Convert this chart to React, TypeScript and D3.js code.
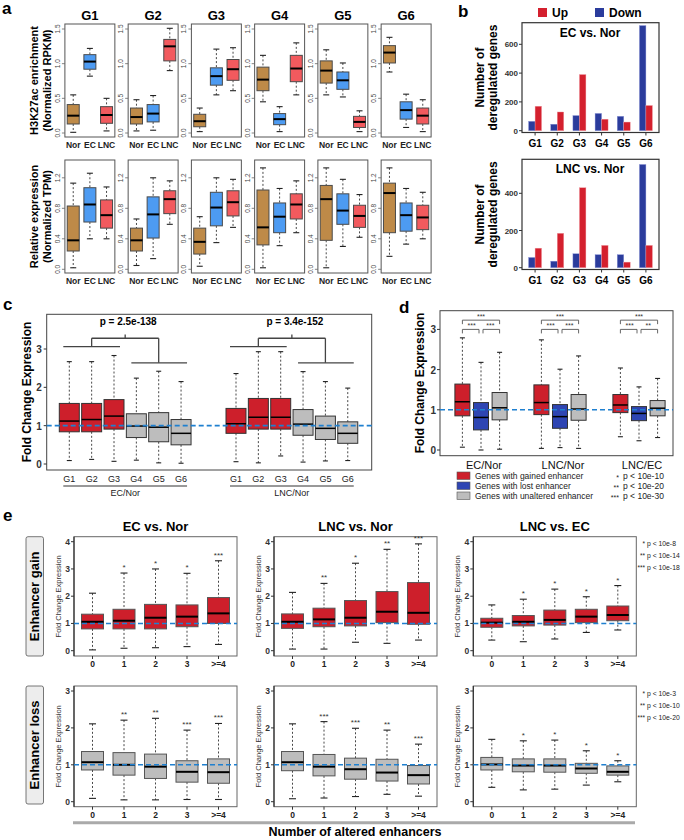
import React from "react";
import * as d3 from "d3";

const FONT = "'Liberation Sans', Arial, Helvetica, sans-serif";

// ---------- DATA ----------
const groups = ["G1", "G2", "G3", "G4", "G5", "G6"];
const conditions = ["Nor", "EC", "LNC"];
// five-number summaries: [low whisker, q1, median, q3, high whisker]
const h3k27ac = [
  [[0.01, 0.13, 0.25, 0.41, 0.55], [0.82, 0.92, 1.03, 1.13, 1.22], [0.03, 0.14, 0.26, 0.38, 0.5]],
  [[0.03, 0.13, 0.23, 0.36, 0.48], [0.04, 0.16, 0.28, 0.41, 0.54], [0.9, 1.04, 1.25, 1.35, 1.51]],
  [[0.02, 0.09, 0.17, 0.27, 0.36], [0.55, 0.69, 0.82, 0.94, 1.21], [0.61, 0.76, 0.92, 1.06, 1.23]],
  [[0.45, 0.61, 0.77, 0.95, 1.12], [0.02, 0.12, 0.2, 0.28, 0.38], [0.55, 0.74, 0.93, 1.12, 1.3]],
  [[0.55, 0.72, 0.9, 1.04, 1.2], [0.52, 0.63, 0.76, 0.88, 1.01], [0.02, 0.08, 0.16, 0.24, 0.32]],
  [[0.88, 1.01, 1.16, 1.26, 1.38], [0.08, 0.2, 0.33, 0.45, 0.56], [0.02, 0.13, 0.25, 0.36, 0.48]],
];
const relExpr = [
  [[0.02, 0.24, 0.38, 0.83, 1.13], [0.4, 0.62, 0.85, 1.07, 1.26], [0.4, 0.54, 0.71, 0.91, 1.08]],
  [[0.05, 0.24, 0.38, 0.54, 0.66], [0.14, 0.41, 0.72, 0.95, 1.2], [0.59, 0.73, 0.92, 1.03, 1.16]],
  [[0.04, 0.2, 0.36, 0.54, 0.69], [0.35, 0.57, 0.81, 1.01, 1.2], [0.55, 0.7, 0.88, 1.03, 1.18]],
  [[0.02, 0.32, 0.55, 1.04, 1.33], [0.31, 0.48, 0.69, 0.87, 1.06], [0.48, 0.66, 0.85, 0.99, 1.16]],
  [[0.02, 0.38, 0.92, 1.1, 1.33], [0.3, 0.59, 0.77, 0.99, 1.18], [0.42, 0.55, 0.7, 0.84, 0.98]],
  [[0.17, 0.48, 1.0, 1.13, 1.33], [0.33, 0.5, 0.71, 0.87, 1.06], [0.4, 0.52, 0.68, 0.84, 1.01]],
];
const aTicksTop = [0, 0.5, 1, 1.5];
const aTicksBottom = [0, 0.4, 0.8, 1.2];

const bUpEC = [170, 130, 390, 80, 60, 175];
const bDownEC = [65, 45, 105, 120, 100, 730];
const bUpLNC = [105, 185, 430, 120, 30, 120];
const bDownLNC = [55, 35, 75, 70, 70, 555];
const bTicksTop = [0, 200, 400, 600];
const bTicksBottom = [0, 200, 400];

const cEcNor = [
  [0.09, 0.84, 1.12, 1.58, 2.67], [0.12, 0.84, 1.16, 1.58, 2.67], [0.07, 0.91, 1.25, 1.68, 2.83],
  [0.1, 0.69, 0.99, 1.31, 2.24], [0.03, 0.58, 0.96, 1.34, 2.42], [0.02, 0.5, 0.8, 1.16, 2.15],
];
const cLncNor = [
  [0.06, 0.8, 1.05, 1.45, 2.36], [0.03, 0.91, 1.22, 1.71, 2.93], [0.21, 0.91, 1.22, 1.71, 2.93],
  [0.05, 0.75, 1.04, 1.42, 2.41], [0.08, 0.64, 0.93, 1.25, 2.15], [0.09, 0.54, 0.8, 1.1, 1.98],
];
const cComparisons = ["EC/Nor", "LNC/Nor"];
const cPvals = ["p = 2.5e-138", "p = 3.4e-152"];
const fcTicks = [0, 1, 2, 3];

const dComparisons = ["EC/Nor", "LNC/Nor", "LNC/EC"];
const dGained = [[0.07, 0.85, 1.2, 1.64, 2.79], [0.04, 0.88, 1.18, 1.62, 2.74], [0.33, 0.93, 1.12, 1.38, 2.04]];
const dLost = [[0.0, 0.5, 0.81, 1.18, 2.18], [0.06, 0.54, 0.83, 1.13, 2.01], [0.23, 0.73, 0.91, 1.08, 1.57]];
const dUnaltered = [[0.02, 0.75, 1.05, 1.43, 2.43], [0.04, 0.74, 1.02, 1.38, 2.34], [0.31, 0.85, 1.04, 1.23, 1.78]];
const dStars = [["***", "***", "***"], ["***", "***", "***"], ["***", "***", "**"]]; // top, left, right
const dLegend = ["Genes with gained enhancer", "Genes with lost enhancer", "Genes with unaltered enhancer"];
const dPLegend = [["*", "p < 10e-10"], ["**", "p < 10e-20"], ["***", "p < 10e-30"]];

const eCats = ["0", "1", "2", "3", ">=4"];
const eTitles = ["EC vs. Nor", "LNC vs. Nor", "LNC vs. EC"];
const eGainEcNor = [[0.03, 0.8, 1.06, 1.34, 2.11], [0.09, 0.8, 1.1, 1.52, 2.85], [0.11, 0.8, 1.21, 1.7, 3.0], [0.15, 0.88, 1.25, 1.68, 2.84], [0.23, 1.0, 1.37, 1.95, 3.3]];
const eGainLncNor = [[0.06, 0.82, 1.06, 1.35, 2.14], [0.06, 0.88, 1.15, 1.56, 2.47], [0.31, 0.91, 1.21, 1.84, 3.21], [0.27, 1.03, 1.43, 2.17, 3.72], [0.39, 0.97, 1.39, 2.5, 3.92]];
const eGainLncEc = [[0.39, 0.86, 1.03, 1.19, 1.68], [0.33, 0.91, 1.06, 1.29, 1.89], [0.43, 0.94, 1.13, 1.49, 2.26], [0.67, 1.03, 1.25, 1.52, 1.98], [0.76, 1.1, 1.31, 1.64, 2.39]];
const eLossEcNor = [[0.09, 0.86, 1.07, 1.36, 2.11], [0.05, 0.72, 1.0, 1.33, 2.21], [0.05, 0.63, 0.95, 1.29, 2.26], [0.06, 0.53, 0.81, 1.11, 1.94], [0.06, 0.5, 0.8, 1.16, 2.12]];
const eLossLncNor = [[0.08, 0.84, 1.07, 1.36, 2.11], [0.1, 0.7, 0.95, 1.28, 2.17], [0.14, 0.61, 0.88, 1.18, 1.99], [0.2, 0.56, 0.79, 1.15, 1.94], [0.15, 0.48, 0.72, 0.98, 1.56]];
const eLossLncEc = [[0.39, 0.86, 1.01, 1.2, 1.69], [0.32, 0.81, 0.98, 1.16, 1.65], [0.34, 0.8, 0.98, 1.16, 1.67], [0.45, 0.77, 0.9, 1.04, 1.38], [0.54, 0.72, 0.81, 0.97, 1.11]];
const eGainStars = [["", "*", "*", "*", "***"], ["", "**", "*", "**", "***"], ["", "*", "*", "*", "*"]];
const eLossStars = [["", "**", "**", "***", "***"], ["", "***", "***", "**", "***"], ["", "*", "*", "*", "*"]];
const eGainLegend = [["*", "p < 10e-8"], ["**", "p < 10e-14"], ["***", "p < 10e-18"]];
const eLossLegend = [["*", "p < 10e-3"], ["**", "p < 10e-10"], ["***", "p < 10e-20"]];
const eGainTicks = [0, 1, 2, 3, 4];
const eLossTicks = [0, 1, 2, 3];

// ---------- COLORS ----------
const cNor = "#BE8A48";
const cEC = "#4D9BF2";
const cLNC = "#F25A5E";
const cRed = "#CD1F2B";
const cBlue = "#2E45B3";
const cGray = "#BDBDBD";
const bUpCol = "#D4202E";
const bDownCol = "#2B3C9C";
const dashCol = "#1F80D0";

function Box({ cx, w, s, y, fill, capW, medW = 2, stroke = "#4a4a4a", capCol = "#222" }: any) {
  const [lo, q1, med, q3, hi] = s;
  const cw = capW ?? w * 0.5;
  return (
    <g>
      <line x1={cx} x2={cx} y1={y(hi)} y2={y(q3)} stroke="#333" strokeDasharray="2,2" strokeWidth={0.9} />
      <line x1={cx} x2={cx} y1={y(q1)} y2={y(lo)} stroke="#333" strokeDasharray="2,2" strokeWidth={0.9} />
      <line x1={cx - cw / 2} x2={cx + cw / 2} y1={y(hi)} y2={y(hi)} stroke={capCol} strokeWidth={1.1} />
      <line x1={cx - cw / 2} x2={cx + cw / 2} y1={y(lo)} y2={y(lo)} stroke={capCol} strokeWidth={1.1} />
      <rect x={cx - w / 2} y={y(q3)} width={w} height={y(q1) - y(q3)} fill={fill} stroke={stroke} strokeWidth={1} />
      <line x1={cx - w / 2} x2={cx + w / 2} y1={y(med)} y2={y(med)} stroke="#000" strokeWidth={medW} />
    </g>
  );
}

// ---------- PANEL A ----------
function PanelA() {
  const rows = [
    { data: h3k27ac, top: 24, bottom: 137, y: d3.scaleLinear().domain([0, 1.5]).range([133, 29]), ticks: aTicksTop, labels: ["H3K27ac enrichment", "(Normalized RPKM)"] },
    { data: relExpr, top: 160, bottom: 273, y: d3.scaleLinear().domain([0, 1.2]).range([269.3, 177.8]), ticks: aTicksBottom, labels: ["Relative expression", "(Normalized TPM)"] },
  ];
  const panelX = d3.scaleBand().domain(groups).range([63, 433]).paddingInner(0.21).paddingOuter(0.03);
  const fills = [cNor, cEC, cLNC];
  const fmt = d3.format(".1f");
  return (
    <g>
      <text x={2} y={14} fontSize={17} fontWeight="bold">a</text>
      {groups.map((g) => (
        <text key={g} x={(panelX(g) as number) + panelX.bandwidth() / 2} y={20} textAnchor="middle" fontSize={13} fontWeight="bold">{g}</text>
      ))}
      {rows.map((r, ri) => {
        const cy = (r.top + r.bottom) / 2;
        return (
          <g key={ri}>
            <text transform={`translate(38,${cy}) rotate(-90)`} textAnchor="middle" fontSize={11} fontWeight="bold">{r.labels[0]}</text>
            <text transform={`translate(51,${cy}) rotate(-90)`} textAnchor="middle" fontSize={11} fontWeight="bold">{r.labels[1]}</text>
            {groups.map((g, gi) => {
              const left = panelX(g) as number;
              const w = panelX.bandwidth();
              const inner = d3.scalePoint().domain(conditions).range([left, left + w]).padding(0.5);
              return (
                <g key={g}>
                  <rect x={left} y={r.top} width={w} height={r.bottom - r.top} fill="none" stroke="#555" strokeWidth={1} />
                  {r.ticks.map((t) => (
                    <g key={t}>
                      <line x1={left - 3} x2={left} y1={r.y(t)} y2={r.y(t)} stroke="#666" strokeWidth={0.8} />
                      <text transform={`translate(${left - 5},${r.y(t)}) rotate(-90)`} textAnchor="middle" fontSize={6.5} fill="#444">{fmt(t)}</text>
                    </g>
                  ))}
                  {conditions.map((c, ci) => (
                    <g key={c}>
                      <Box cx={inner(c)} w={12} s={r.data[gi][ci]} y={r.y} fill={fills[ci]} capW={6} />
                      <text x={inner(c)} y={r.bottom + 11} textAnchor="middle" fontSize={8.5} fontWeight="bold" fill="#222">{c}</text>
                    </g>
                  ))}
                </g>
              );
            })}
          </g>
        );
      })}
    </g>
  );
}

// ---------- PANEL B ----------
function PanelB() {
  const charts = [
    { title: "EC vs. Nor", up: bUpEC, down: bDownEC, top: 22.7, bottom: 132.5, y: d3.scaleLinear().domain([0, 600]).range([130.7, 44.3]), ticks: bTicksTop },
    { title: "LNC vs. Nor", up: bUpLNC, down: bDownLNC, top: 159.3, bottom: 269.5, y: d3.scaleLinear().domain([0, 400]).range([267.7, 193.3]), ticks: bTicksBottom },
  ];
  const left = 522, right = 659;
  const x = d3.scaleBand().domain(groups).range([left + 2, right - 2]);
  const bw = 6.5;
  return (
    <g>
      <text x={458} y={17} fontSize={17} fontWeight="bold">b</text>
      <rect x={538} y={8} width={9} height={9} fill={bUpCol} />
      <text x={552} y={17} fontSize={12} fontWeight="bold">Up</text>
      <rect x={595} y={8} width={9} height={9} fill={bDownCol} />
      <text x={609} y={17} fontSize={12} fontWeight="bold">Down</text>
      {charts.map((c, ci) => {
        const cy = (c.top + c.bottom) / 2;
        return (
          <g key={ci}>
            <text transform={`translate(484,${cy}) rotate(-90)`} textAnchor="middle" fontSize={12} fontWeight="bold">Number of</text>
            <text transform={`translate(497,${cy}) rotate(-90)`} textAnchor="middle" fontSize={12} fontWeight="bold">deregulated genes</text>
            {c.ticks.map((t) => (
              <g key={t}>
                <line x1={left - 3} x2={left} y1={c.y(t)} y2={c.y(t)} stroke="#333" />
                <text x={left - 4} y={c.y(t) + 3} textAnchor="end" fontSize={8} fontWeight="bold" fill="#333">{t}</text>
              </g>
            ))}
            {groups.map((g, gi) => {
              const cx = (x(g) as number) + x.bandwidth() / 2;
              return (
                <g key={g}>
                  <rect x={cx - bw} y={c.y(c.down[gi])} width={bw} height={c.y(0) - c.y(c.down[gi])} fill={bDownCol} stroke="#8d97d8" strokeWidth={0.4} />
                  <rect x={cx} y={c.y(c.up[gi])} width={bw} height={c.y(0) - c.y(c.up[gi])} fill={bUpCol} stroke="#f0a0a8" strokeWidth={0.4} />
                  <line x1={cx} x2={cx} y1={c.bottom} y2={c.bottom + 3} stroke="#333" />
                  <text x={cx} y={c.bottom + 14} textAnchor="middle" fontSize={10} fontWeight="bold">{g}</text>
                </g>
              );
            })}
            <rect x={left} y={c.top} width={right - left} height={c.bottom - c.top} fill="none" stroke="#333" strokeWidth={1.2} />
            <text x={590} y={c.top + 14} textAnchor="middle" fontSize={12} fontWeight="bold">{c.title}</text>
          </g>
        );
      })}
    </g>
  );
}

// ---------- PANEL C ----------
function PanelC() {
  const left = 46.7, right = 371.7, top = 314.3, bottom = 470;
  const y = d3.scaleLinear().domain([0, 3]).range([464, 349]);
  const starts = [69.3, 236];
  const step = 22.35;
  const sets = [cEcNor, cLncNor];
  return (
    <g>
      <text x={3} y={310} fontSize={17} fontWeight="bold">c</text>
      <rect x={left} y={top} width={right - left} height={bottom - top} fill="none" stroke="#444" strokeWidth={1} />
      <text transform={`translate(31,392) rotate(-90)`} textAnchor="middle" fontSize={12} fontWeight="bold">Fold Change Expression</text>
      {fcTicks.map((t) => (
        <g key={t}>
          <line x1={left - 3} x2={left} y1={y(t)} y2={y(t)} stroke="#333" />
          <text x={left - 5} y={y(t) + 4} textAnchor="end" fontSize={10} fontWeight="bold" fill="#333">{t}</text>
        </g>
      ))}
      {sets.map((set, si) => {
        const xs = d3.scaleLinear().domain([0, 5]).range([starts[si], starts[si] + 5 * step]);
        const mid = (xs(1) + xs(4)) / 2;
        return (
          <g key={si}>
            <line x1={xs(1)} x2={xs(4)} y1={y(3.28)} y2={y(3.28)} stroke="#444" strokeWidth={1.3} />
            <line x1={mid} x2={mid} y1={y(3.28)} y2={y(3.38)} stroke="#444" strokeWidth={1.3} />
            <line x1={xs(1)} x2={xs(1)} y1={y(3.28)} y2={y(3.06)} stroke="#444" strokeWidth={1.3} />
            <line x1={xs(4)} x2={xs(4)} y1={y(3.28)} y2={y(2.64)} stroke="#444" strokeWidth={1.3} />
            <line x1={xs(0) - 6} x2={xs(2) + 6} y1={y(3.06)} y2={y(3.06)} stroke="#444" strokeWidth={1.3} />
            <line x1={xs(3) - 5} x2={xs(5) + 6} y1={y(2.64)} y2={y(2.64)} stroke="#444" strokeWidth={1.3} />
            <text x={mid + 3} y={y(3.62)} textAnchor="middle" fontSize={10} fontWeight="bold">{cPvals[si]}</text>
            {set.map((s, i) => (
              <g key={i}>
                <Box cx={xs(i)} w={20} s={s} y={y} fill={i < 3 ? cRed : cGray} capW={5} medW={1.5} stroke="#333" />
                <text x={xs(i)} y={482} textAnchor="middle" fontSize={9} fill="#222">{groups[i]}</text>
              </g>
            ))}
            <line x1={xs(0) - 6} x2={xs(5) + 6} y1={486} y2={486} stroke="#333" strokeWidth={1} />
            <text x={(xs(0) + xs(5)) / 2} y={496} textAnchor="middle" fontSize={9} fill="#222">{cComparisons[si]}</text>
          </g>
        );
      })}
      <line x1={left} x2={right} y1={y(1)} y2={y(1)} stroke={dashCol} strokeWidth={1.6} strokeDasharray="5,3" />
    </g>
  );
}

// ---------- PANEL D ----------
function PanelD() {
  const left = 440, right = 673, top = 310.7, bottom = 455.7;
  const y = d3.scaleLinear().domain([0, 3]).range([450, 329.4]);
  const groupX = d3.scalePoint().domain(dComparisons).range([481, 639]);
  const sub = 18.6;
  const fills = [cRed, cBlue, cGray];
  const sets = [dGained, dLost, dUnaltered];
  return (
    <g>
      <text x={399} y={313} fontSize={17} fontWeight="bold">d</text>
      <rect x={left} y={top} width={right - left} height={bottom - top} fill="none" stroke="#444" strokeWidth={1} />
      <text transform={`translate(424,383) rotate(-90)`} textAnchor="middle" fontSize={12} fontWeight="bold">Fold Change Expression</text>
      {fcTicks.map((t) => (
        <g key={t}>
          <line x1={left - 3} x2={left} y1={y(t)} y2={y(t)} stroke="#333" />
          <text x={left - 4} y={y(t) + 4} textAnchor="end" fontSize={10} fontWeight="bold" fill="#333">{t}</text>
        </g>
      ))}
      {dComparisons.map((cmp, ci) => {
        const gx = groupX(cmp) as number;
        const xr = gx - sub, xb = gx, xg = gx + sub;
        const yTop = y(3.23), yLow = y(3.0);
        return (
          <g key={cmp}>
            {sets.map((set, k) => (
              <Box key={k} cx={gx + (k - 1) * sub} w={15} s={set[ci]} y={y} fill={fills[k]} capW={5} medW={1.5} stroke="#333" />
            ))}
            <path d={`M${xr},${yTop + 4}V${yTop}H${xg}V${yTop + 4}`} fill="none" stroke="#555" strokeWidth={0.9} />
            <path d={`M${xr},${yLow + 4}V${yLow}H${xb - 2}V${yLow + 4}`} fill="none" stroke="#555" strokeWidth={0.9} />
            <path d={`M${xb + 2},${yLow + 4}V${yLow}H${xg}V${yLow + 4}`} fill="none" stroke="#555" strokeWidth={0.9} />
            <text x={(xr + xg) / 2} y={yTop - 1.5} textAnchor="middle" fontSize={7} fill="#333">{dStars[ci][0]}</text>
            <text x={(xr + xb) / 2} y={yLow - 1.5} textAnchor="middle" fontSize={7} fill="#333">{dStars[ci][1]}</text>
            <text x={(xb + xg) / 2} y={yLow - 1.5} textAnchor="middle" fontSize={7} fill="#333">{dStars[ci][2]}</text>
            <text x={gx + 3} y={469} textAnchor="middle" fontSize={11} fill="#111">{cmp}</text>
          </g>
        );
      })}
      <line x1={left} x2={right} y1={y(1)} y2={y(1)} stroke={dashCol} strokeWidth={1.6} strokeDasharray="5,3" />
      {dLegend.map((l, i) => (
        <g key={l}>
          <rect x={457} y={472 + i * 10} width={13} height={7.5} fill={fills[i]} stroke="#555" strokeWidth={0.6} />
          <text x={475} y={479 + i * 10} fontSize={8.5} fill="#222">{l}</text>
          <text x={619} y={480 + i * 10} textAnchor="end" fontSize={7} fill="#222">{dPLegend[i][0]}</text>
          <text x={623} y={479 + i * 10} fontSize={8.5} fill="#222">{dPLegend[i][1]}</text>
        </g>
      ))}
    </g>
  );
}

// ---------- PANEL E ----------
function PanelE() {
  const lefts = [74, 274, 473.3];
  const pw = 163;
  const rows = [
    { name: "Enhancer gain", top: 536.7, bottom: 656, y: d3.scaleLinear().domain([0, 4]).range([650.7, 541.7]), ticks: eGainTicks, data: [eGainEcNor, eGainLncNor, eGainLncEc], stars: eGainStars, fill: cRed, legend: eGainLegend, legY: 543, boxTop: 536.7, boxBottom: 656 },
    { name: "Enhancer loss", top: 686, bottom: 806.7, y: d3.scaleLinear().domain([0, 3]).range([801.7, 691]), ticks: eLossTicks, data: [eLossEcNor, eLossLncNor, eLossLncEc], stars: eLossStars, fill: cGray, legend: eLossLegend, legY: 693, boxTop: 686, boxBottom: 804 },
  ];
  return (
    <g>
      <text x={3} y={521} fontSize={17} fontWeight="bold">e</text>
      {eTitles.map((t, i) => (
        <text key={t} x={lefts[i] + pw / 2} y={531} textAnchor="middle" fontSize={13} fontWeight="bold">{t}</text>
      ))}
      {rows.map((r) => (
        <g key={r.name}>
          <rect x={26} y={r.boxTop} width={17.5} height={r.boxBottom - r.boxTop} rx={2} fill="#EDEDED" stroke="#555" strokeWidth={0.8} />
          <text transform={`translate(39,${(r.boxTop + r.boxBottom) / 2}) rotate(-90)`} textAnchor="middle" fontSize={13} fontWeight="bold">{r.name}</text>
          {lefts.map((left, pi) => {
            const x = d3.scalePoint().domain(eCats).range([left + 18.5, left + pw - 18.5]);
            return (
              <g key={pi}>
                <rect x={left} y={r.top} width={pw} height={r.bottom - r.top} fill="none" stroke="#666" strokeWidth={1} />
                <line x1={left} x2={left} y1={r.top} y2={r.bottom} stroke="#333" strokeWidth={1.2} />
                <text transform={`translate(${left - 13},${(r.top + r.bottom) / 2}) rotate(-90)`} textAnchor="middle" fontSize={7.5} fill="#333">Fold Change Expression</text>
                {r.ticks.map((t) => (
                  <g key={t}>
                    <line x1={left - 3} x2={left} y1={r.y(t)} y2={r.y(t)} stroke="#333" />
                    <text x={left - 4} y={r.y(t) + 3} textAnchor="end" fontSize={8.5} fontWeight="bold" fill="#333">{t}</text>
                  </g>
                ))}
                {eCats.map((c, ci) => {
                  const s = r.data[pi][ci];
                  const cx = x(c) as number;
                  return (
                    <g key={c}>
                      <Box cx={cx} w={22} s={s} y={r.y} fill={r.fill} capW={7} medW={2} stroke="#555" />
                      <text x={cx} y={r.y(s[4]) - 3} textAnchor="middle" fontSize={8} fill="#333">{r.stars[pi][ci]}</text>
                      <line x1={cx} x2={cx} y1={r.bottom} y2={r.bottom + 3} stroke="#333" />
                      <text x={cx} y={r.bottom + 11} textAnchor="middle" fontSize={8.5} fontWeight="bold" fill="#222">{c}</text>
                    </g>
                  );
                })}
                <line x1={left} x2={left + pw} y1={r.y(1)} y2={r.y(1)} stroke={dashCol} strokeWidth={1.6} strokeDasharray="5,3" />
              </g>
            );
          })}
          {r.legend.map((l, i) => (
            <g key={i}>
              <text x={645} y={r.legY + 3 + i * 12.2} textAnchor="end" fontSize={6.5} fill="#222">{l[0]}</text>
              <text x={647} y={r.legY + 3 + i * 12.2} fontSize={6.8} fill="#222">{l[1]}</text>
            </g>
          ))}
        </g>
      ))}
      <line x1={73} x2={635} y1={822.7} y2={822.7} stroke="#AAA" strokeWidth={3} />
      <text x={355} y={835.5} textAnchor="middle" fontSize={12.5} fontWeight="bold">Number of altered enhancers</text>
    </g>
  );
}

export default function App() {
  return (
    <svg width={684} height={840} style={{ position: "absolute", left: 0, top: 0, display: "block", background: "#fff" }} fontFamily={FONT}>
      <rect width={684} height={840} fill="#fff" />
      <PanelA />
      <PanelB />
      <PanelC />
      <PanelD />
      <PanelE />
    </svg>
  );
}
